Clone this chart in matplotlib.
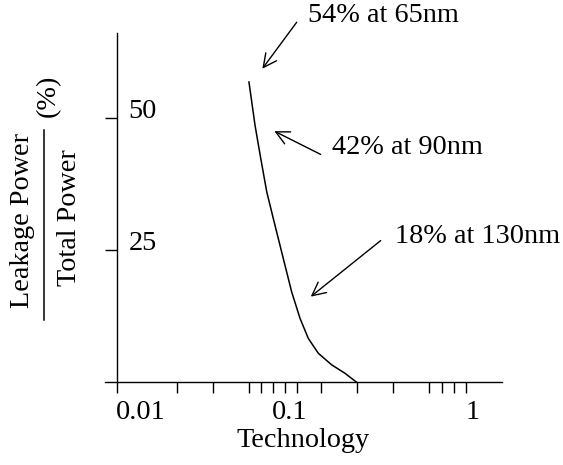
import matplotlib
matplotlib.use("Agg")
import matplotlib.pyplot as plt
import matplotlib.transforms as mtransforms
from matplotlib.lines import Line2D

# curve (technology, leakage share in %)
tech = [0.0439, 0.0477, 0.0516, 0.0560, 0.0612, 0.0702, 0.0787,
        0.0882, 0.0988, 0.1132, 0.136, 0.1632, 0.1914]
leak = [56.8, 48.6, 42.3, 36.0, 31.0, 23.4, 17.1,
        12.1, 8.3, 5.5, 3.3, 1.7, 0.0]

xticks = [0.01, 0.1, 1]
xtick_labels = ["0.01", "0.1", "1"]
xminor = [0.00721, 0.01, 0.0165, 0.027, 0.0441, 0.0518, 0.061, 0.0719,
          0.0847, 0.1175, 0.192, 0.3155, 0.516, 0.611, 0.721, 0.849, 1.0]
yticks = [25, 50]

# annotation text, its position, arrow start and arrow tip
notes = ["54% at 65nm", "42% at 90nm", "18% at 130nm"]
note_pos = [(0.0984, 69.3), (0.136, 44.5), (0.3229, 27.5)]
arrow_from = [(0.0843, 68.1), (0.117, 43.1), (0.2656, 26.8)]
arrow_to = [(0.0527, 59.3), (0.0621, 47.5), (0.1021, 16.2)]

plt.rcParams['font.family'] = ['Liberation Serif', 'DejaVu Serif']
FS = 20.3

fig = plt.figure(figsize=(5.63, 4.65), dpi=100)
ax = fig.add_axes([0.1865, 0.1778, 0.7046, 0.7505])

ax.plot(tech, leak, color='black', lw=1.1)

ax.set_xscale('log')
ax.set_xlim(0.006139, 1.388)
ax.set_ylim(0, 66)

for s in ['top', 'right']:
    ax.spines[s].set_visible(False)
ax.spines['left'].set_position(('data', 0.00721))
ax.spines['left'].set_linewidth(1.0)
ax.spines['bottom'].set_linewidth(1.0)

ax.set_xticks(xticks)
ax.set_xticklabels(xtick_labels, fontsize=FS)
ax.set_xticks(xminor, minor=True)
ax.tick_params(axis='x', which='major', length=0, pad=13)
ax.tick_params(axis='x', which='minor', length=8, width=1.0,
               direction='out', labelbottom=False)
# labels in the original are not quite on their decades
shifts = [0, -20, -5]
for lbl, dx in zip(ax.get_xticklabels(), shifts):
    lbl.set_transform(lbl.get_transform() +
                      mtransforms.ScaledTranslation(dx / 100, 0, fig.dpi_scale_trans))

ax.set_yticks(yticks)
ax.set_yticklabels([str(v) for v in yticks], fontsize=FS)
ax.tick_params(axis='y', length=8.6, width=1.0, direction='out', pad=-17)
for t in ax.get_yticklabels():
    t.set_ha('left')
    t.set_va('baseline')

ax.set_xlabel("Technology", fontsize=FS, labelpad=2)

for txt, pos, a0, a1 in zip(notes, note_pos, arrow_from, arrow_to):
    ax.text(pos[0], pos[1], txt, fontsize=FS, ha='left', va='center')
    ax.annotate("", xy=a1, xytext=a0,
                arrowprops=dict(arrowstyle='->', color='black', lw=1.0,
                                shrinkA=0, shrinkB=0, mutation_scale=24))

# fraction style y label
fig.text(23 / 563, 1 - 220 / 465, "Leakage Power", rotation=90,
         fontsize=FS, ha='center', va='center')
fig.text(70 / 563, 1 - 218 / 465, "Total Power", rotation=90,
         fontsize=FS, ha='center', va='center')
fig.text(48.5 / 563, 1 - 96 / 465, "(%)", rotation=90,
         fontsize=FS, ha='center', va='center')
fig.add_artist(Line2D([44.3 / 563, 44.3 / 563], [1 - 130 / 465, 1 - 320 / 465],
                      color='black', lw=1.1, transform=fig.transFigure))

fig.savefig("out.png", dpi=100)
